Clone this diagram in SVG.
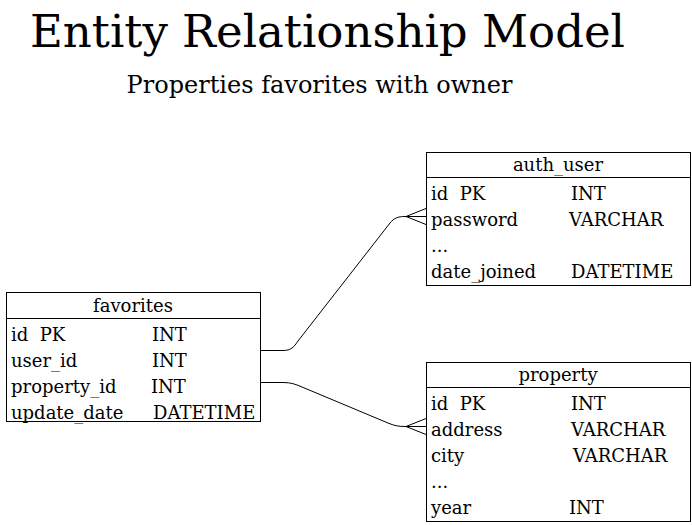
<svg xmlns="http://www.w3.org/2000/svg" width="692" height="525" viewBox="0 0 692 525">
<style>
text{font-family:"DejaVu Serif",serif;fill:#000;white-space:pre}
.title{font-size:45px}
.sub{font-size:24px}
.hd{font-size:18px;text-anchor:middle}
.row{font-size:18px}
.box{fill:#fff;stroke:#000;stroke-width:1}
.conn{fill:none;stroke:#000;stroke-width:1}
</style>
<rect width="692" height="525" fill="#fff"/>
<text class="title" x="327.5" y="47" text-anchor="middle">Entity Relationship Model</text>
<text class="sub" x="319.5" y="93" text-anchor="middle">Properties favorites with owner</text>
<g id="connectors">
<path class="conn" d="M260.5,350.5 H283 C291,350.5 294,347 298,341 L390,223 C394,218 398,216.5 405,216.5 H426"/>
<path class="conn" d="M406,216.5 L426,208.5 M406,216.5 L426,224.5"/>
<path class="conn" d="M260.5,382.5 H283 C291,382.5 295,384 302,387 L388,423 C394,425.5 398,426.5 405,426.5 H426"/>
<path class="conn" d="M406,426.5 L426,418.5 M406,426.5 L426,434.5"/>
</g>
<g id="favorites">
<rect class="box" x="6.5" y="292.5" width="254" height="129"/>
<line class="conn" x1="6.5" y1="318.5" x2="260.5" y2="318.5"/>
<text class="hd" x="133" y="312">favorites</text>
<text class="row" x="11" y="341" xml:space="preserve">id  PK</text><text class="row" x="152" y="341">INT</text>
<text class="row" x="11" y="367">user_id</text><text class="row" x="152" y="367">INT</text>
<text class="row" x="11" y="393">property_id</text><text class="row" x="151" y="393">INT</text>
<text class="row" x="11" y="419">update_date</text><text class="row" x="153" y="419">DATETIME</text>
</g>
<g id="auth_user">
<rect class="box" x="426.5" y="152.5" width="264" height="133"/>
<line class="conn" x1="426.5" y1="177.5" x2="690.5" y2="177.5"/>
<text class="hd" x="558" y="171">auth_user</text>
<text class="row" x="431" y="200" xml:space="preserve">id  PK</text><text class="row" x="571" y="200">INT</text>
<text class="row" x="431" y="226">password</text><text class="row" x="569" y="226">VARCHAR</text>
<text class="row" x="431" y="252">...</text>
<text class="row" x="431" y="278">date_joined</text><text class="row" x="571" y="278">DATETIME</text>
</g>
<g id="property">
<rect class="box" x="426.5" y="362.5" width="264" height="159"/>
<line class="conn" x1="426.5" y1="387.5" x2="690.5" y2="387.5"/>
<text class="hd" x="558" y="381">property</text>
<text class="row" x="431" y="410" xml:space="preserve">id  PK</text><text class="row" x="571" y="410">INT</text>
<text class="row" x="431" y="436">address</text><text class="row" x="571" y="436">VARCHAR</text>
<text class="row" x="431" y="462">city</text><text class="row" x="573" y="462">VARCHAR</text>
<text class="row" x="431" y="488">...</text>
<text class="row" x="431" y="514">year</text><text class="row" x="569" y="514">INT</text>
</g>
</svg>
